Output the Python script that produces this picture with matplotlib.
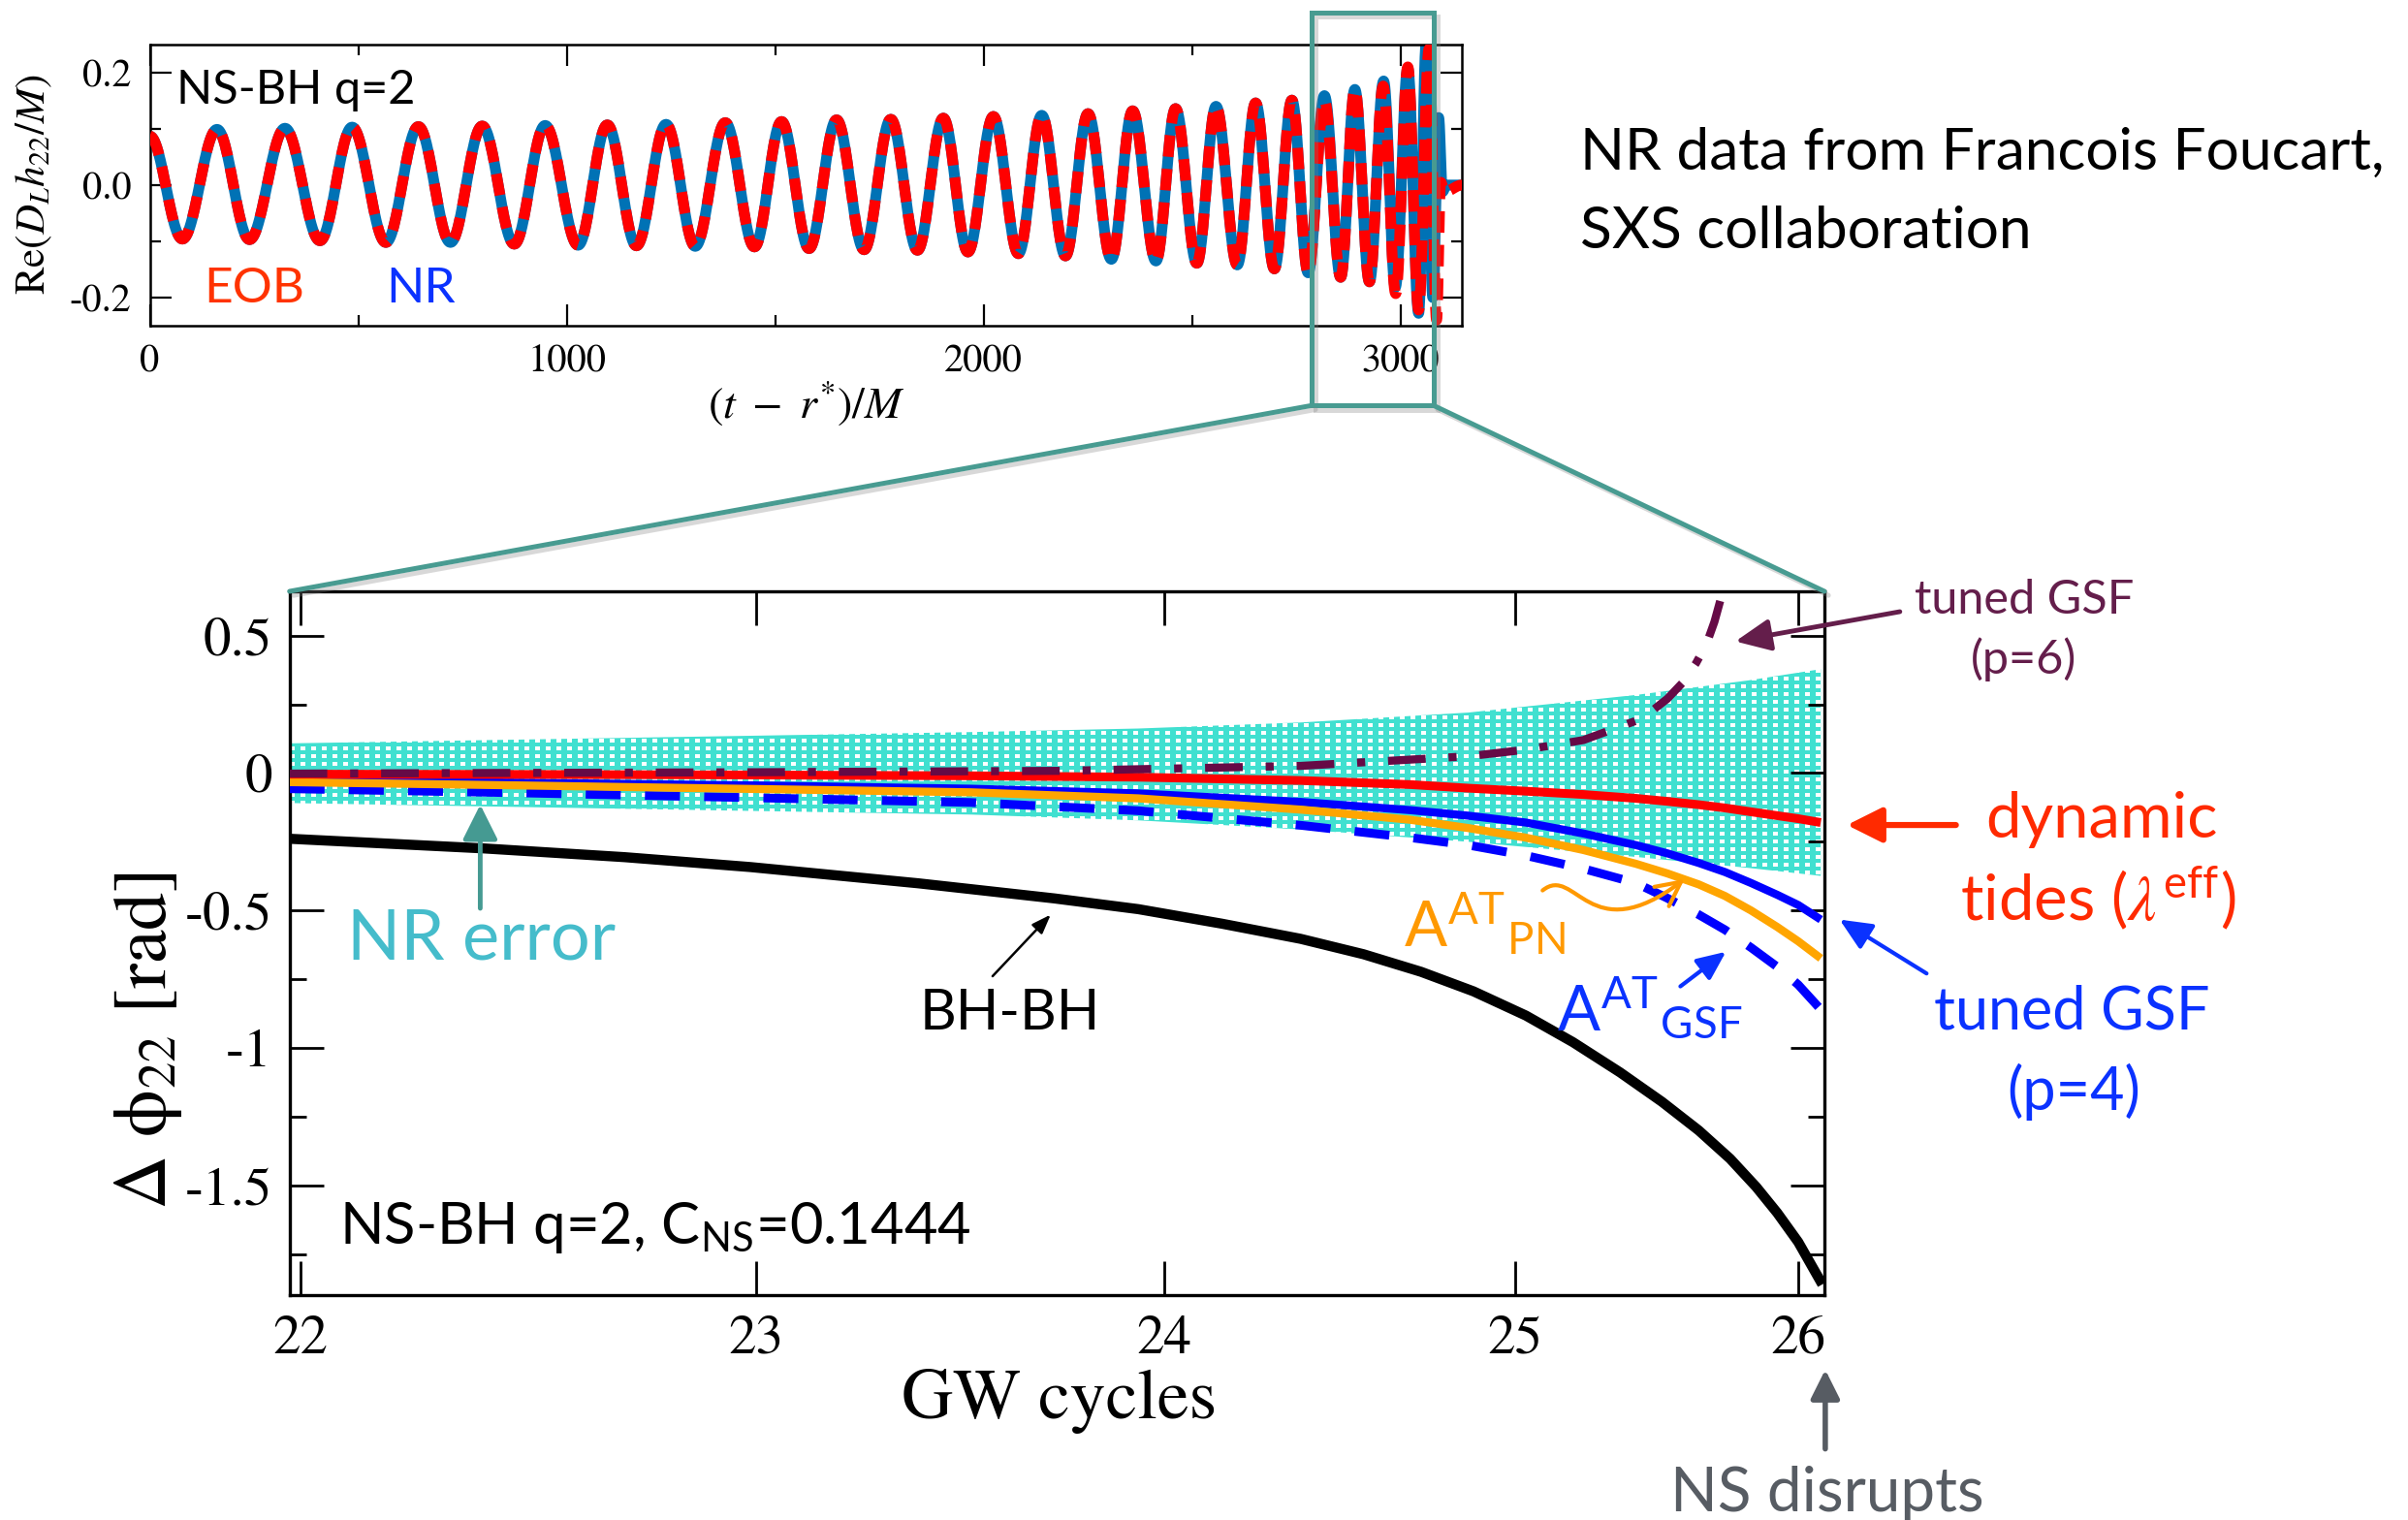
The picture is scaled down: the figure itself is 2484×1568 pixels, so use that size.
import numpy as np
import matplotlib
matplotlib.use("Agg")
import matplotlib.pyplot as plt
from matplotlib.patches import Rectangle, Polygon, FancyArrowPatch, ConnectionPatch
from matplotlib.path import Path
from matplotlib import transforms
import matplotlib.patheffects as pe

plt.rcParams["mathtext.fontset"] = "custom"
plt.rcParams["mathtext.rm"] = "STIXGeneral"
plt.rcParams["mathtext.it"] = "STIXGeneral:italic"
plt.rcParams["mathtext.bf"] = "STIXGeneral:bold"
plt.rcParams["mathtext.sf"] = "Lato"
plt.rcParams["font.family"] = "STIXGeneral"
plt.rcParams["axes.unicode_minus"] = False
plt.rcParams["lines.scale_dashes"] = False

SANS = "Lato"

# ---------------- waveform extrema, Re(D_L h22 / M) vs (t - r*)/M ----------------
nr_t = [0, 78, 161, 239, 324, 408, 485, 566, 644, 721, 797, 874, 948, 1027, 1097,
        1167, 1238, 1308, 1380, 1450, 1515, 1581, 1647, 1713, 1777, 1841, 1903, 1962,
        2023, 2083, 2139, 2196, 2250, 2306, 2357, 2413, 2460, 2511, 2557, 2608, 2652,
        2697, 2739, 2778, 2817, 2856, 2890, 2925, 2959, 2987, 3017, 3043, 3061, 3077,
        3091, 3100, 3110, 3147]
nr_h = [0.087, -0.096, 0.099, -0.097, 0.101, -0.099, 0.103, -0.102, 0.104, -0.102,
        0.105, -0.105, 0.106, -0.107, 0.107, -0.108, 0.108, -0.109, 0.111, -0.110,
        0.113, -0.113, 0.116, -0.115, 0.117, -0.116, 0.119, -0.119, 0.122, -0.122,
        0.124, -0.126, 0.127, -0.132, 0.132, -0.135, 0.136, -0.139, 0.140, -0.142,
        0.146, -0.149, 0.151, -0.156, 0.159, -0.164, 0.170, -0.172, 0.185, -0.182,
        0.208, -0.228, 0.252, -0.200, 0.120, -0.012, 0.0, 0.0]

eob_t = [0, 78, 161, 239, 324, 408, 485, 566, 644, 721, 797, 874, 948, 1027, 1097,
         1167, 1238, 1308, 1380, 1450, 1515, 1581, 1647, 1713, 1777, 1841, 1903, 1962,
         2023, 2083, 2139, 2196, 2250, 2306, 2357, 2413, 2460, 2511, 2557, 2608, 2652,
         2697, 2739, 2778, 2817, 2856, 2890, 2925, 2958, 2988, 3017, 3043, 3068, 3086,
         3096, 3105, 3147]
eob_h = [0.087, -0.096, 0.099, -0.097, 0.101, -0.099, 0.103, -0.102, 0.104, -0.102,
         0.105, -0.105, 0.106, -0.107, 0.107, -0.108, 0.108, -0.109, 0.111, -0.110,
         0.113, -0.113, 0.116, -0.115, 0.117, -0.116, 0.119, -0.119, 0.122, -0.122,
         0.124, -0.126, 0.127, -0.132, 0.132, -0.135, 0.136, -0.139, 0.140, -0.142,
         0.146, -0.149, 0.151, -0.156, 0.150, -0.164, 0.170, -0.172, 0.176, -0.193,
         0.210, -0.222, 0.242, -0.240, 0.005, -0.012, 0.0]

# ---------------- dephasing vs GW cycles (x stored as (t - r*)/M) ----------------
cycle_labels = [22, 23, 24, 25, 26]
cycle_times = [2788, 2875, 2953, 3020, 3074]
zoom_window = [2786, 3079]

err_t = [2786, 2850, 2916, 2948, 2979, 3011, 3043, 3064.5, 3078.3]
err_upper = [0.108, 0.128, 0.149, 0.162, 0.184, 0.220, 0.284, 0.337, 0.378]
err_lower = [-0.109, -0.130, -0.151, -0.172, -0.205, -0.250, -0.305, -0.345, -0.374]

bbh_t = [2786, 2823, 2850, 2874, 2906, 2932, 2948, 2964, 2979, 2991, 3002, 3012,
         3022, 3031, 3040, 3048, 3055, 3061, 3066, 3070, 3074, 3078.6]
bbh_dphi = [-0.239, -0.274, -0.306, -0.342, -0.401, -0.456, -0.495, -0.548, -0.603,
            -0.659, -0.723, -0.794, -0.882, -0.979, -1.089, -1.196, -1.300, -1.403,
            -1.506, -1.600, -1.706, -1.860]

model_t = [2786, 2830, 2875, 2916, 2948, 2979, 3000, 3011, 3022, 3033, 3043, 3049,
           3055, 3060, 3065, 3070, 3074, 3078.3]
tides_dphi = [-0.004, -0.005, -0.007, -0.010, -0.015, -0.027, -0.042, -0.055, -0.066,
              -0.078, -0.092, -0.103, -0.115, -0.127, -0.141, -0.155, -0.166, -0.180]
pn_dphi = [-0.033, -0.045, -0.058, -0.070, -0.092, -0.133, -0.170, -0.200, -0.235,
           -0.280, -0.330, -0.365, -0.405, -0.447, -0.500, -0.560, -0.612, -0.674]
gsf4_dphi = [-0.027, -0.035, -0.045, -0.057, -0.074, -0.105, -0.135, -0.155, -0.180,
             -0.220, -0.262, -0.292, -0.327, -0.360, -0.400, -0.443, -0.480, -0.533]
gsfA_dphi = [-0.057, -0.072, -0.090, -0.107, -0.137, -0.190, -0.235, -0.262, -0.300,
             -0.348, -0.400, -0.455, -0.515, -0.570, -0.635, -0.705, -0.770, -0.860]

gsf6_t = [2786, 2875, 2933, 2979, 3011, 3022, 3033, 3043, 3046, 3049, 3052, 3054.5,
          3056.5, 3058, 3059.3, 3060]
gsf6_dphi = [-0.002, 0.003, 0.008, 0.026, 0.061, 0.085, 0.120, 0.190, 0.225, 0.270,
             0.330, 0.400, 0.470, 0.550, 0.640, 0.700]


def through_extrema(tk, vk, n=28):
    """Smooth half-cosine arcs joining successive turning points."""
    ts, vs = [], []
    for i in range(len(tk) - 1):
        s = np.linspace(0.0, 1.0, n, endpoint=False)
        ts.append(tk[i] + (tk[i + 1] - tk[i]) * s)
        mid = 0.5 * (vk[i] + vk[i + 1])
        half = 0.5 * (vk[i] - vk[i + 1])
        vs.append(mid + half * np.cos(np.pi * s))
    ts.append([tk[-1]])
    vs.append([vk[-1]])
    return np.concatenate(ts), np.concatenate(vs)


fig = plt.figure(figsize=(24.84, 15.68), dpi=100)

# ======================= top panel: waveform =======================
ax1 = fig.add_axes([0.06224, 0.7857, 0.5449, 0.1851])
t_nr, h_nr = through_extrema(nr_t, nr_h)
t_eob, h_eob = through_extrema(eob_t, eob_h)
ax1.plot(t_nr, h_nr, color="#0072b5", lw=8, solid_joinstyle="round", zorder=2)
ax1.plot(t_eob, h_eob, color="#ff0000", lw=8, dashes=(16, 9),
         dash_capstyle="butt", zorder=3)

ax1.set_xlim(0, 3147)
ax1.set_ylim(-0.25, 0.25)
ax1.set_xticks([0, 1000, 2000, 3000], labels=["0", "1000", "2000", "3000"])
ax1.set_xticks([500, 1500, 2500], minor=True)
ax1.set_yticks([-0.2, 0.0, 0.2], labels=["-0.2", "0.0", "0.2"])
ax1.set_yticks([-0.1, 0.1], minor=True)
ax1.tick_params(which="both", direction="in", top=True, right=True, width=1.6,
                labelsize=29, pad=14)
ax1.tick_params(which="major", length=16)
ax1.tick_params(which="minor", length=8)
for sp in ax1.spines.values():
    sp.set_linewidth(1.8)
ax1.set_ylabel(r"Re$(D_L h_{22}/M)$", fontsize=31)
ax1.yaxis.set_label_coords(-0.073, 0.503)
ax1.set_xlabel(r"$(t\ -\ r^{*})/M$", fontsize=33)
ax1.xaxis.set_label_coords(0.50, -0.19)

ax1.text(0.02, 0.79, "NS-BH q=2", transform=ax1.transAxes, family=SANS,
         fontsize=35, va="baseline", zorder=5)
ax1.text(0.041, 0.084, "EOB", transform=ax1.transAxes, family=SANS,
         fontsize=37, color="#ff3300", va="baseline")
ax1.text(0.18, 0.084, "NR", transform=ax1.transAxes, family=SANS,
         fontsize=37, color="#0a32ff", va="baseline")

fig.text(0.6563, 0.8884, "NR data from Francois Foucart,", family=SANS,
         fontsize=43.5, va="baseline")
fig.text(0.6563, 0.837, "SXS collaboration", family=SANS, fontsize=43.5,
         va="baseline")

# ======================= bottom panel: dephasing =======================
ax2 = fig.add_axes([0.12025, 0.14796, 0.6374, 0.4630])
ylo, yhi = -1.899, 0.661

# NR error band: turquoise with a fine white dot screen
H, W = 726, 1583
yy, xx = np.mgrid[0:H, 0:W]
dots = ((xx % 11) < 5) & ((yy % 8) < 4)
screen = np.empty((H, W, 3))
screen[:] = np.array([64, 224, 208]) / 255.0
screen[dots] = 1.0
band_xy = np.column_stack([np.r_[err_t, err_t[::-1]],
                           np.r_[err_upper, err_lower[::-1]]])
band = Polygon(band_xy, closed=True, facecolor="none", edgecolor="none")
ax2.add_patch(band)
im = ax2.imshow(screen, extent=(zoom_window[0], zoom_window[1], ylo, yhi),
                aspect="auto", interpolation="nearest", origin="upper", zorder=1)
im.set_clip_path(band)

ax2.plot(bbh_t, bbh_dphi, color="black", lw=7.5, zorder=3,
         solid_capstyle="butt", solid_joinstyle="round")
ax2.plot(model_t, gsfA_dphi, color="#0000ff", lw=6.5, dashes=(26, 18),
         dash_capstyle="butt", zorder=4)
ax2.plot(model_t, gsf4_dphi, color="#0000ff", lw=6, zorder=5,
         solid_capstyle="butt", solid_joinstyle="round")
ax2.plot(model_t, pn_dphi, color="#ffa500", lw=6, zorder=6,
         solid_capstyle="butt", solid_joinstyle="round")
ax2.plot(model_t, tides_dphi, color="#ff0000", lw=6.5, zorder=7,
         solid_capstyle="butt", solid_joinstyle="round")
ax2.plot(gsf6_t, gsf6_dphi, color="#660a46", lw=6, dashes=(28, 17, 6, 17),
         dash_capstyle="butt", zorder=8)

ax2.set_xlim(zoom_window)
ax2.set_ylim(ylo, yhi)
ax2.set_xticks(cycle_times, labels=[str(c) for c in cycle_labels])
ax2.set_yticks([0.5, 0.0, -0.5, -1.0, -1.5],
               labels=["0.5", "0", "-0.5", "-1", "-1.5"])
ax2.set_yticks([0.25, -0.25, -0.75, -1.25, -1.75], minor=True)
ax2.tick_params(which="both", direction="in", top=True, right=True, width=2,
                labelsize=41)
ax2.tick_params(axis="x", pad=15)
ax2.tick_params(axis="y", pad=13)
ax2.tick_params(which="major", length=25)
ax2.tick_params(which="minor", length=12)
for sp in ax2.spines.values():
    sp.set_linewidth(2.4)
ax2.set_xlabel("GW cycles", fontsize=53)
ax2.xaxis.set_label_coords(0.5017, -0.105)
ax2.set_ylabel("Δ ϕ$_{22}$ [rad]", fontsize=56)
ax2.yaxis.set_label_coords(-0.0687, 0.362)

# ---- labels inside the panel ----
ax2.text(0.0374, 0.4766, "NR error", transform=ax2.transAxes, family=SANS,
         fontsize=52, color="#45bccb", va="baseline")
ax2.annotate("", xy=(2822.4, -0.115), xytext=(2822.4, -0.492),
             arrowprops=dict(arrowstyle="-|>,head_length=1.1,head_width=0.55",
                             mutation_scale=20, lw=3.5, color="#459a92",
                             shrinkA=0, shrinkB=0), zorder=9)

ax2.text(0.4107, 0.378, "BH-BH", transform=ax2.transAxes, family=SANS,
         fontsize=42, va="baseline")
ax2.annotate("", xy=(2931.3, -0.515), xytext=(2920.2, -0.739),
             arrowprops=dict(arrowstyle="-|>,head_length=0.6,head_width=0.22",
                             mutation_scale=20, lw=1.8, color="black",
                             shrinkA=0, shrinkB=0))

ax2.text(0.0327, 0.0736, r"NS-BH q=2, C$_{\mathsf{NS}}$=0.1444",
         transform=ax2.transAxes, family=SANS, fontsize=43, va="baseline")

ax2.text(0.7258, 0.4959, r"$\mathsf{A}^{\mathsf{AT}}{}_{\mathsf{PN}}$",
         transform=ax2.transAxes, fontsize=47, color="#ff9900", va="baseline")
squiggle = Path([(3025.2, -0.427), (3031.5, -0.33), (3034.0, -0.65),
                 (3052.3, -0.386)],
                [Path.MOVETO, Path.CURVE4, Path.CURVE4, Path.CURVE4])
ax2.add_patch(FancyArrowPatch(path=squiggle,
                              arrowstyle="->,head_length=0.9,head_width=0.45",
                              mutation_scale=20, lw=3, color="#ff9900",
                              zorder=9))

ax2.text(0.8257, 0.3755, r"$\mathsf{A}^{\mathsf{AT}}{}_{\mathsf{GSF}}$",
         transform=ax2.transAxes, fontsize=47, color="#0a32ff", va="baseline")
ax2.annotate("", xy=(3060.2, -0.650), xytext=(3051.5, -0.776),
             arrowprops=dict(arrowstyle="-|>,head_length=0.9,head_width=0.4",
                             mutation_scale=20, lw=3, color="#0a32ff",
                             shrinkA=0, shrinkB=0), zorder=9)

# ---- labels to the right of the panel ----
purple = "#641e4b"
fig.text(0.8406, 0.5965, "tuned GSF", family=SANS, fontsize=35, color=purple,
         ha="center", va="baseline")
fig.text(0.8406, 0.5568, "(p=6)", family=SANS, fontsize=35, color=purple,
         ha="center", va="baseline")
ax2.annotate("", xy=(3062.0, 0.479), xytext=(3093.4, 0.587),
             arrowprops=dict(arrowstyle="-|>,head_length=1.1,head_width=0.5",
                             mutation_scale=20, lw=3.5, color=purple,
                             shrinkA=0, shrinkB=0), annotation_clip=False)

tides_red = "#ff2a00"
fig.text(0.8726, 0.449, "dynamic", family=SANS, fontsize=47, color=tides_red,
         ha="center", va="baseline")
fig.text(0.8716, 0.394, r"tides ($\lambda^{\mathsf{eff}}$)", family=SANS,
         fontsize=47, color=tides_red, ha="center", va="baseline")
ax2.annotate("", xy=(3083.3, -0.189), xytext=(3104.1, -0.189),
             arrowprops=dict(arrowstyle="-|>,head_length=1.1,head_width=0.55",
                             mutation_scale=20, lw=4.5, color=tides_red,
                             shrinkA=0, shrinkB=0), annotation_clip=False)

gsf_blue = "#0a32ff"
fig.text(0.8605, 0.3232, "tuned GSF", family=SANS, fontsize=44, color=gsf_blue,
         ha="center", va="baseline")
fig.text(0.861, 0.2695, "(p=4)", family=SANS, fontsize=44, color=gsf_blue,
         ha="center", va="baseline")
ax2.annotate("", xy=(3081.9, -0.533), xytext=(3098.5, -0.729),
             arrowprops=dict(arrowstyle="-|>,head_length=1.0,head_width=0.45",
                             mutation_scale=20, lw=3, color=gsf_blue,
                             shrinkA=0, shrinkB=0), annotation_clip=False)

fig.text(0.7589, 0.006, "NS disrupts", family=SANS, fontsize=46,
         color="#575c63", ha="center", va="baseline")
fig.add_artist(FancyArrowPatch((0.758, 0.0468), (0.758, 0.0989),
                               transform=fig.transFigure,
                               arrowstyle="-|>,head_length=0.9,head_width=0.45",
                               mutation_scale=20, lw=4, color="#575c63",
                               shrinkA=0, shrinkB=0))

# ======================= zoom box and connectors =======================
teal = "#489b91"
shadow = [pe.SimpleLineShadow(offset=(3, -3), shadow_color="0.5", alpha=0.3),
          pe.Normal()]
blend = transforms.blended_transform_factory(ax1.transData, fig.transFigure)
box_lo, box_hi = 0.7332, 0.9915
box = Rectangle((zoom_window[0], box_lo), zoom_window[1] - zoom_window[0],
                box_hi - box_lo, transform=blend, fill=False, edgecolor=teal,
                lw=3.6, clip_on=False, path_effects=shadow)
fig.add_artist(box)
for xa, xb in [(zoom_window[0], 0.0), (zoom_window[1], 1.0)]:
    con = ConnectionPatch(xyA=(xa, box_lo), coordsA=blend,
                          xyB=(xb, 1.0), coordsB=ax2.transAxes,
                          color=teal, lw=3.6, path_effects=shadow)
    fig.add_artist(con)

fig.savefig("out.png", dpi=100)
